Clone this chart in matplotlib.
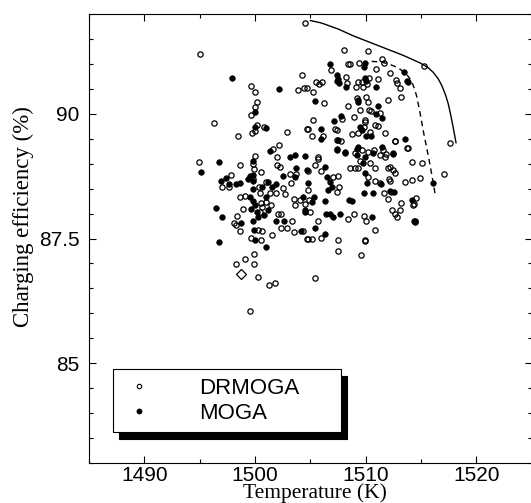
import matplotlib.pyplot as plt
import numpy as np
from matplotlib.lines import Line2D
from matplotlib.ticker import MultipleLocator

# DRMOGA solutions (temperature K, charging efficiency %)
drmoga = [
    (1504.50, 91.82), (1495.07, 91.20), (1508.06, 91.28), (1510.22, 91.25), (1511.43, 91.10),
    (1511.67, 91.01), (1515.30, 90.95), (1508.36, 90.99), (1508.57, 90.99), (1509.38, 91.01),
    (1506.82, 90.87), (1510.92, 90.90), (1512.15, 90.81), (1512.70, 90.67), (1512.82, 90.61),
    (1513.09, 90.52), (1513.21, 90.34), (1508.18, 90.73), (1508.27, 90.62), (1509.26, 90.64),
    (1509.62, 90.63), (1510.07, 90.60), (1510.31, 90.72), (1509.08, 90.53), (1509.77, 90.53),
    (1511.07, 90.69), (1506.07, 90.63), (1505.74, 90.60), (1505.49, 90.63), (1505.25, 90.44),
    (1504.65, 90.52), (1506.19, 90.22), (1508.36, 90.16), (1509.17, 90.32), (1509.98, 90.34),
    (1510.16, 90.24), (1509.47, 90.07), (1510.31, 90.07), (1512.03, 90.28), (1499.61, 90.55),
    (1499.95, 90.44), (1504.22, 90.78), (1503.92, 90.47), (1504.43, 90.52), (1500.13, 90.24),
    (1499.95, 90.14), (1499.61, 89.97), (1496.27, 89.81),
    (1507.81, 89.90), (1508.96, 89.93), (1509.92, 89.88), (1510.47, 90.05), (1511.28, 90.02),
    (1505.22, 89.88), (1504.80, 89.69), (1507.21, 89.69), (1506.16, 89.55), (1509.92, 89.84),
    (1509.86, 89.73), (1509.32, 89.61), (1510.38, 89.63), (1510.83, 89.78), (1511.07, 89.76),
    (1511.73, 89.61), (1508.72, 89.59), (1507.42, 89.67), (1507.39, 89.48), (1507.75, 89.45),
    (1512.63, 89.45), (1513.84, 89.31), (1509.62, 89.28), (1510.16, 89.24), (1510.71, 89.28),
    (1511.58, 89.28), (1511.79, 89.20), (1509.02, 89.21), (1505.70, 89.13), (1505.10, 89.55),
    (1500.16, 89.78), (1499.70, 89.61), (1499.95, 89.65), (1500.79, 89.74), (1498.44, 89.56),
    (1502.84, 89.64), (1504.71, 89.69), (1502.20, 89.37), (1501.63, 89.30), (1499.95, 89.16),
    (1501.99, 89.14), (1513.75, 89.31), (1512.60, 89.45), (1517.60, 89.42),
    (1494.94, 89.03), (1498.68, 88.97), (1499.85, 89.00), (1499.90, 88.90), (1499.85, 88.70),
    (1500.58, 88.83), (1501.99, 88.98), (1502.23, 88.94), (1503.14, 88.80), (1503.68, 88.80),
    (1497.00, 88.54), (1497.80, 88.78), (1497.66, 88.53), (1500.37, 88.54), (1501.03, 88.63),
    (1502.54, 88.51), (1503.29, 88.61), (1505.71, 89.09), (1505.40, 88.98), (1504.80, 88.86),
    (1506.00, 88.86), (1507.06, 88.74), (1507.51, 88.75), (1507.57, 88.54), (1508.57, 88.91),
    (1509.02, 88.91), (1509.32, 88.91), (1509.47, 89.05), (1510.37, 89.01), (1510.83, 88.91),
    (1511.28, 89.17), (1511.73, 89.13), (1512.18, 88.94), (1512.48, 88.88), (1510.22, 88.74),
    (1510.83, 88.66), (1511.28, 88.61), (1511.67, 88.41), (1511.97, 88.29), (1512.20, 88.66),
    (1514.17, 89.04), (1515.10, 89.02), (1514.90, 88.72), (1517.10, 88.80), (1513.54, 88.64),
    (1514.14, 88.67), (1512.66, 88.82), (1512.12, 88.69), (1512.03, 88.91),
    (1501.33, 88.42), (1501.93, 88.41), (1502.69, 88.40), (1498.68, 88.33), (1499.10, 88.36),
    (1500.43, 88.41), (1500.58, 88.22), (1500.67, 88.14), (1501.45, 88.17), (1500.43, 88.04),
    (1500.97, 88.23), (1498.92, 88.10), (1498.41, 87.95), (1498.08, 87.82), (1503.50, 88.29),
    (1503.59, 88.17), (1504.04, 88.27), (1504.50, 88.20), (1502.08, 88.00), (1502.30, 88.00),
    (1504.74, 88.47), (1504.86, 88.27), (1504.95, 88.04), (1507.36, 88.44), (1508.96, 88.00),
    (1508.42, 87.90), (1509.86, 87.96), (1510.01, 87.85), (1512.39, 88.08), (1512.60, 88.00),
    (1513.10, 88.08), (1513.20, 88.22), (1512.80, 87.94), (1514.30, 88.17), (1514.50, 88.32),
    (1514.35, 88.19), (1514.44, 87.85), (1514.44, 87.83),
    (1503.35, 87.85), (1502.36, 87.72), (1502.84, 87.71), (1503.50, 87.64), (1504.34, 87.66),
    (1504.70, 87.50), (1498.26, 87.78), (1498.62, 87.66), (1500.28, 87.67), (1500.67, 87.66),
    (1501.54, 87.58), (1499.61, 87.51), (1500.58, 87.47), (1505.70, 87.86), (1506.00, 87.52),
    (1504.80, 87.50), (1505.10, 87.50), (1507.51, 87.48), (1507.51, 87.25), (1509.56, 87.17),
    (1509.92, 87.48), (1509.92, 87.46), (1510.83, 87.68), (1499.92, 87.18), (1499.07, 87.09),
    (1498.32, 86.98), (1499.92, 86.98), (1500.28, 86.72), (1501.28, 86.56), (1501.79, 86.61),
    (1505.37, 86.71), (1499.56, 86.04),
]

# MOGA solutions
moga = [
    (1497.96, 90.71), (1502.20, 90.49), (1499.95, 90.03), (1499.95, 89.73), (1501.03, 89.71),
    (1501.33, 89.26), (1503.14, 89.13), (1503.60, 89.18), (1504.50, 89.16), (1506.76, 90.99),
    (1509.92, 91.01), (1509.80, 90.94), (1513.48, 90.83), (1513.69, 90.66), (1513.81, 90.63),
    (1507.42, 90.77), (1507.51, 90.70), (1507.36, 90.65), (1507.60, 90.62), (1508.24, 90.53),
    (1509.92, 90.72), (1510.04, 90.66), (1510.95, 90.53), (1505.40, 90.26), (1509.26, 90.28),
    (1509.32, 90.23), (1511.07, 90.15), (1510.92, 90.00), (1507.75, 89.96), (1507.09, 89.86),
    (1511.49, 89.91), (1505.95, 89.69), (1505.92, 89.50), (1509.47, 89.73), (1509.62, 89.67),
    (1510.47, 89.55), (1510.01, 89.56), (1507.45, 89.47), (1513.54, 89.49), (1508.12, 89.24),
    (1509.17, 89.29), (1509.32, 89.33), (1511.43, 89.33), (1512.48, 89.21), (1507.39, 89.29),
    (1495.12, 88.84), (1496.75, 89.04), (1499.80, 89.05), (1499.80, 88.78), (1499.85, 88.65),
    (1499.80, 88.50), (1503.68, 88.91), (1503.62, 88.74), (1502.54, 88.76), (1496.90, 88.66),
    (1497.40, 88.72), (1497.66, 88.59), (1498.32, 88.59), (1498.62, 88.62), (1499.37, 88.69),
    (1499.55, 88.75), (1500.67, 88.54), (1501.18, 88.63), (1501.57, 88.53), (1501.93, 88.59),
    (1500.97, 88.34), (1499.52, 88.34), (1499.82, 88.26), (1499.98, 88.18), (1499.67, 88.10),
    (1500.13, 88.03), (1499.82, 87.85), (1500.28, 87.94), (1500.79, 87.97), (1501.18, 88.08),
    (1496.45, 88.12), (1497.02, 87.94), (1504.34, 88.34), (1504.80, 88.61), (1504.65, 88.88),
    (1504.50, 88.07), (1501.93, 87.85), (1502.60, 87.85), (1504.19, 87.65), (1498.77, 87.82),
    (1499.88, 87.67), (1499.95, 87.48), (1500.97, 87.33), (1496.75, 87.44), (1506.30, 88.94),
    (1506.46, 88.74), (1506.76, 88.64), (1506.91, 88.54), (1506.61, 88.47), (1509.77, 89.01),
    (1509.92, 88.81), (1510.07, 88.61), (1509.86, 88.41), (1510.68, 89.21), (1512.48, 89.20),
    (1510.68, 88.41), (1511.37, 88.59), (1512.27, 88.44), (1512.57, 88.44), (1514.20, 88.28),
    (1514.35, 87.86), (1510.53, 87.94), (1507.66, 88.00), (1507.06, 87.94), (1506.76, 88.00),
    (1506.40, 88.00), (1505.40, 87.72), (1506.30, 87.60), (1505.34, 88.34), (1505.10, 88.24),
    (1504.50, 88.04), (1506.30, 88.26), (1508.48, 88.27), (1508.72, 88.25), (1507.36, 89.28),
    (1508.12, 89.21), (1509.17, 89.18), (1509.92, 89.14), (1512.18, 88.45), (1516.10, 88.62),
]

# Pareto fronts
front_temp = [1505.0, 1506.0, 1507.5, 1508.9, 1510.4, 1511.9, 1513.4, 1514.9, 1515.6,
              1516.1, 1516.55, 1516.9, 1517.2, 1517.45, 1517.65, 1517.85, 1518.0, 1518.15]
front_eff = [91.87, 91.82, 91.70, 91.56, 91.43, 91.30, 91.17, 91.02, 90.93,
             90.83, 90.70, 90.55, 90.38, 90.20, 90.00, 89.78, 89.60, 89.42]
dash_temp = [1510.53, 1511.4, 1512.18, 1512.85, 1513.38, 1513.8, 1514.14, 1514.4, 1514.6,
             1514.9, 1515.2, 1515.5, 1515.8, 1516.1, 1516.3]
dash_eff = [91.05, 91.04, 90.99, 90.93, 90.85, 90.76, 90.65, 90.50, 90.35,
            90.02, 89.65, 89.32, 88.98, 88.61, 88.34]

# single highlighted design
diamond_temp = [1498.69]
diamond_eff = [86.78]

sans = 'Liberation Sans'
serif = 'Liberation Serif'

dr = np.array(drmoga)
mo = np.array(moga)

fig = plt.figure(figsize=(5.31, 5.03), dpi=100)
ax = fig.add_axes([0.1676, 0.0795, 0.834, 0.8926])

ax.plot(dr[:, 0], dr[:, 1], 'o', ls='none', mfc='none', mec='black', ms=3.8, mew=0.9)
ax.plot(mo[:, 0], mo[:, 1], 'o', ls='none', mfc='black', mec='black', ms=4.0, mew=0.5)
ax.plot(front_temp, front_eff, '-', color='black', lw=1.0)
ax.plot(dash_temp, dash_eff, '--', color='black', lw=1.0, dashes=(4, 3))
ax.plot(diamond_temp, diamond_eff, 'D', ls='none', mfc='none', mec='black', ms=5, mew=0.9)

ax.set_xlim(1485, 1525)
ax.set_ylim(83, 92)
ax.xaxis.set_major_locator(MultipleLocator(10))
ax.xaxis.set_minor_locator(MultipleLocator(5))
ax.yaxis.set_minor_locator(MultipleLocator(0.5))
ax.set_yticks([85, 87.5, 90])
ax.set_yticklabels(['85', '87.5', '90'])

ax.tick_params(which='both', direction='in', top=True, right=True, width=0.8)
ax.tick_params(which='major', length=4.8)
ax.tick_params(which='minor', length=2.7)
ax.tick_params(axis='x', pad=2.5)
ax.tick_params(axis='y', pad=6.8)
for lab in ax.get_xticklabels() + ax.get_yticklabels():
    lab.set_fontfamily(sans)
    lab.set_fontsize(15)
for s in ax.spines.values():
    s.set_linewidth(0.8)

ax.set_xlabel('Temperature (K)', family=serif, fontsize=15.5)
ax.set_ylabel('Charging efficiency (%)', family=serif, fontsize=16.5)
ax.xaxis.set_label_coords(0.51, -0.046)
ax.yaxis.set_label_coords(-0.124, 0.549)

handles = [
    Line2D([], [], marker='o', ls='none', mfc='none', mec='black', ms=3.2, mew=0.8),
    Line2D([], [], marker='o', ls='none', mfc='black', mec='black', ms=3.2),
]
leg = ax.legend(handles, ['DRMOGA', 'MOGA'], loc='lower left',
                bbox_to_anchor=(0.054, 0.068, 0.514, 0.144), mode='expand',
                prop={'family': sans, 'size': 16}, fancybox=False, framealpha=1,
                edgecolor='black', borderaxespad=0, handlelength=1.54,
                handletextpad=1.93, borderpad=0.4, labelspacing=0.15,
                shadow={'color': 'black', 'alpha': 1, 'ox': 4.3, 'oy': -5})
leg.get_frame().set_linewidth(0.8)

fig.savefig('out.png', dpi=100)
